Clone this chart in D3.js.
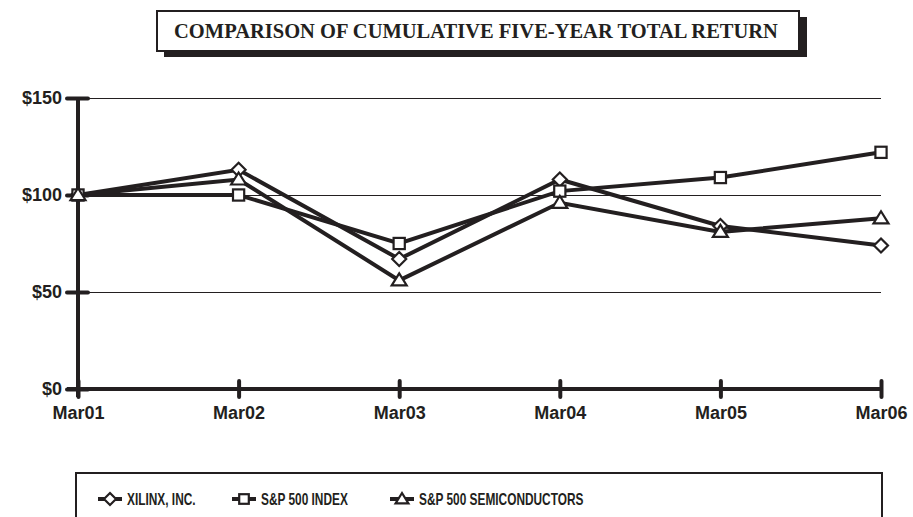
<!DOCTYPE html>
<html>
<head>
<meta charset="utf-8">
<script src="https://cdn.jsdelivr.net/npm/d3@7"></script>
<style>
  body { margin: 0; background: #fff; }
  svg { display: block; }
  .tick text { font-family: "Liberation Sans", Arial, sans-serif; font-weight: bold; }
</style>
</head>
<body>
<script>
// data
var years = ["Mar01", "Mar02", "Mar03", "Mar04", "Mar05", "Mar06"];
var xilinx = [100, 113, 67, 108, 84, 74];
var sp500 = [100, 100, 75, 102, 109, 122];
var semis = [100, 108, 56, 96, 81, 88];
var yTicks = [0, 50, 100, 150];
var seriesNames = ["XILINX, INC.", "S&P 500 INDEX", "S&P 500 SEMICONDUCTORS"];

var ink = "#231f20";
var width = 913, height = 517;

var svg = d3.select("body").append("svg")
    .attr("width", width)
    .attr("height", height);

// set the ranges
var x = d3.scalePoint()
    .domain(years)
    .range([78, 881]);
var y = d3.scaleLinear()
    .domain([0, 150])
    .range([389, 98]);

// title box with drop shadow
svg.append("rect")
    .attr("x", 164).attr("y", 17)
    .attr("width", 643).attr("height", 40)
    .attr("fill", ink);
svg.append("rect")
    .attr("x", 157).attr("y", 11)
    .attr("width", 642).attr("height", 40)
    .attr("fill", "#fff")
    .attr("stroke", ink)
    .attr("stroke-width", 2);
svg.append("text")
    .attr("x", 476).attr("y", 38)
    .attr("text-anchor", "middle")
    .attr("font-family", "'Liberation Serif', 'Times New Roman', serif")
    .attr("font-weight", "bold")
    .attr("font-size", 20.5)
    .attr("fill", ink)
    .text("COMPARISON OF CUMULATIVE FIVE-YEAR TOTAL RETURN");

// gridlines
svg.append("g")
    .selectAll("line")
    .data(yTicks.filter(function(d) { return d > 0; }))
  .enter().append("line")
    .attr("x1", x(years[0])).attr("x2", x(years[years.length - 1]))
    .attr("y1", function(d) { return Math.round(y(d)) + 0.5; })
    .attr("y2", function(d) { return Math.round(y(d)) + 0.5; })
    .attr("stroke", ink)
    .attr("stroke-width", 1);

// y axis
var yAxis = svg.append("g")
    .attr("transform", "translate(" + x(years[0]) + ",0)")
    .call(d3.axisLeft(y).tickValues(yTicks)
        .tickFormat(function(d) { return "$" + d; })
        .tickSize(0).tickPadding(16));
yAxis.select(".domain").remove();
yAxis.selectAll(".tick text").attr("font-size", 18).attr("fill", ink);
yAxis.selectAll(".tick").append("line")
    .attr("x1", -11).attr("x2", 10)
    .attr("stroke", ink).attr("stroke-width", 4)
    .attr("stroke-linecap", "round");
yAxis.append("line")
    .attr("x1", 0).attr("x2", 0)
    .attr("y1", y(150)).attr("y2", y(0) + 8)
    .attr("stroke", ink).attr("stroke-width", 4);

// x axis
var xAxis = svg.append("g")
    .attr("transform", "translate(0," + y(0) + ")")
    .call(d3.axisBottom(x).tickSize(0).tickPadding(17));
xAxis.select(".domain").remove();
xAxis.selectAll(".tick text").attr("font-size", 18).attr("fill", ink);
xAxis.append("line")
    .attr("x1", x(years[0]) - 11).attr("x2", x(years[years.length - 1]))
    .attr("stroke", ink).attr("stroke-width", 4);
xAxis.selectAll(".tick").append("line")
    .attr("y1", -8).attr("y2", 8)
    .attr("stroke", ink).attr("stroke-width", 4)
    .attr("stroke-linecap", "round");

// marker shapes
function marker(g, kind, r) {
  r = r || 7;
  if (kind === "diamond") {
    g.append("path").attr("d", "M0," + -r + "L" + r + ",0L0," + r + "L" + -r + ",0Z");
  } else if (kind === "square") {
    var h = r * 0.8;
    g.append("rect").attr("x", -h).attr("y", -h).attr("width", 2 * h).attr("height", 2 * h);
  } else {
    g.append("path").attr("d", "M0," + -r + "L" + (r * 1.07) + "," + (r * 0.72) + "L" + (-r * 1.07) + "," + (r * 0.72) + "Z");
  }
  g.selectAll("path,rect")
    .attr("fill", "#fff")
    .attr("stroke", ink)
    .attr("stroke-width", 2.2);
}

var series = [
  {name: seriesNames[0], values: xilinx, kind: "diamond"},
  {name: seriesNames[1], values: sp500, kind: "square"},
  {name: seriesNames[2], values: semis, kind: "triangle"}
];

var line = d3.line()
    .x(function(d, i) { return x(years[i]); })
    .y(function(d) { return y(d); });

series.forEach(function(s) {
  svg.append("path")
      .datum(s.values)
      .attr("fill", "none")
      .attr("stroke", ink)
      .attr("stroke-width", 4)
      .attr("stroke-linejoin", "miter")
      .attr("d", line);
});
series.forEach(function(s) {
  s.values.forEach(function(v, i) {
    var g = svg.append("g")
        .attr("transform", "translate(" + x(years[i]) + "," + y(v) + ")");
    marker(g, s.kind);
  });
});

// legend
svg.append("rect")
    .attr("x", 76).attr("y", 473)
    .attr("width", 806).attr("height", 60)
    .attr("fill", "#fff")
    .attr("stroke", ink)
    .attr("stroke-width", 2);

var legendX = [98, 232, 390];
series.forEach(function(s, i) {
  var g = svg.append("g")
      .attr("transform", "translate(" + legendX[i] + ",499)");
  g.append("line")
      .attr("x1", 0).attr("x2", 24)
      .attr("stroke", ink).attr("stroke-width", 4);
  var m = g.append("g").attr("transform", "translate(12,0)");
  marker(m, s.kind, 6);
  // condensed look, no narrow font installed
  g.append("text")
      .attr("transform", "translate(29,6) scale(0.72,1)")
      .attr("font-family", "'Liberation Sans', Arial, sans-serif")
      .attr("font-weight", "bold")
      .attr("font-size", 16.5)
      .attr("fill", ink)
      .text(s.name);
});
</script>
</body>
</html>
